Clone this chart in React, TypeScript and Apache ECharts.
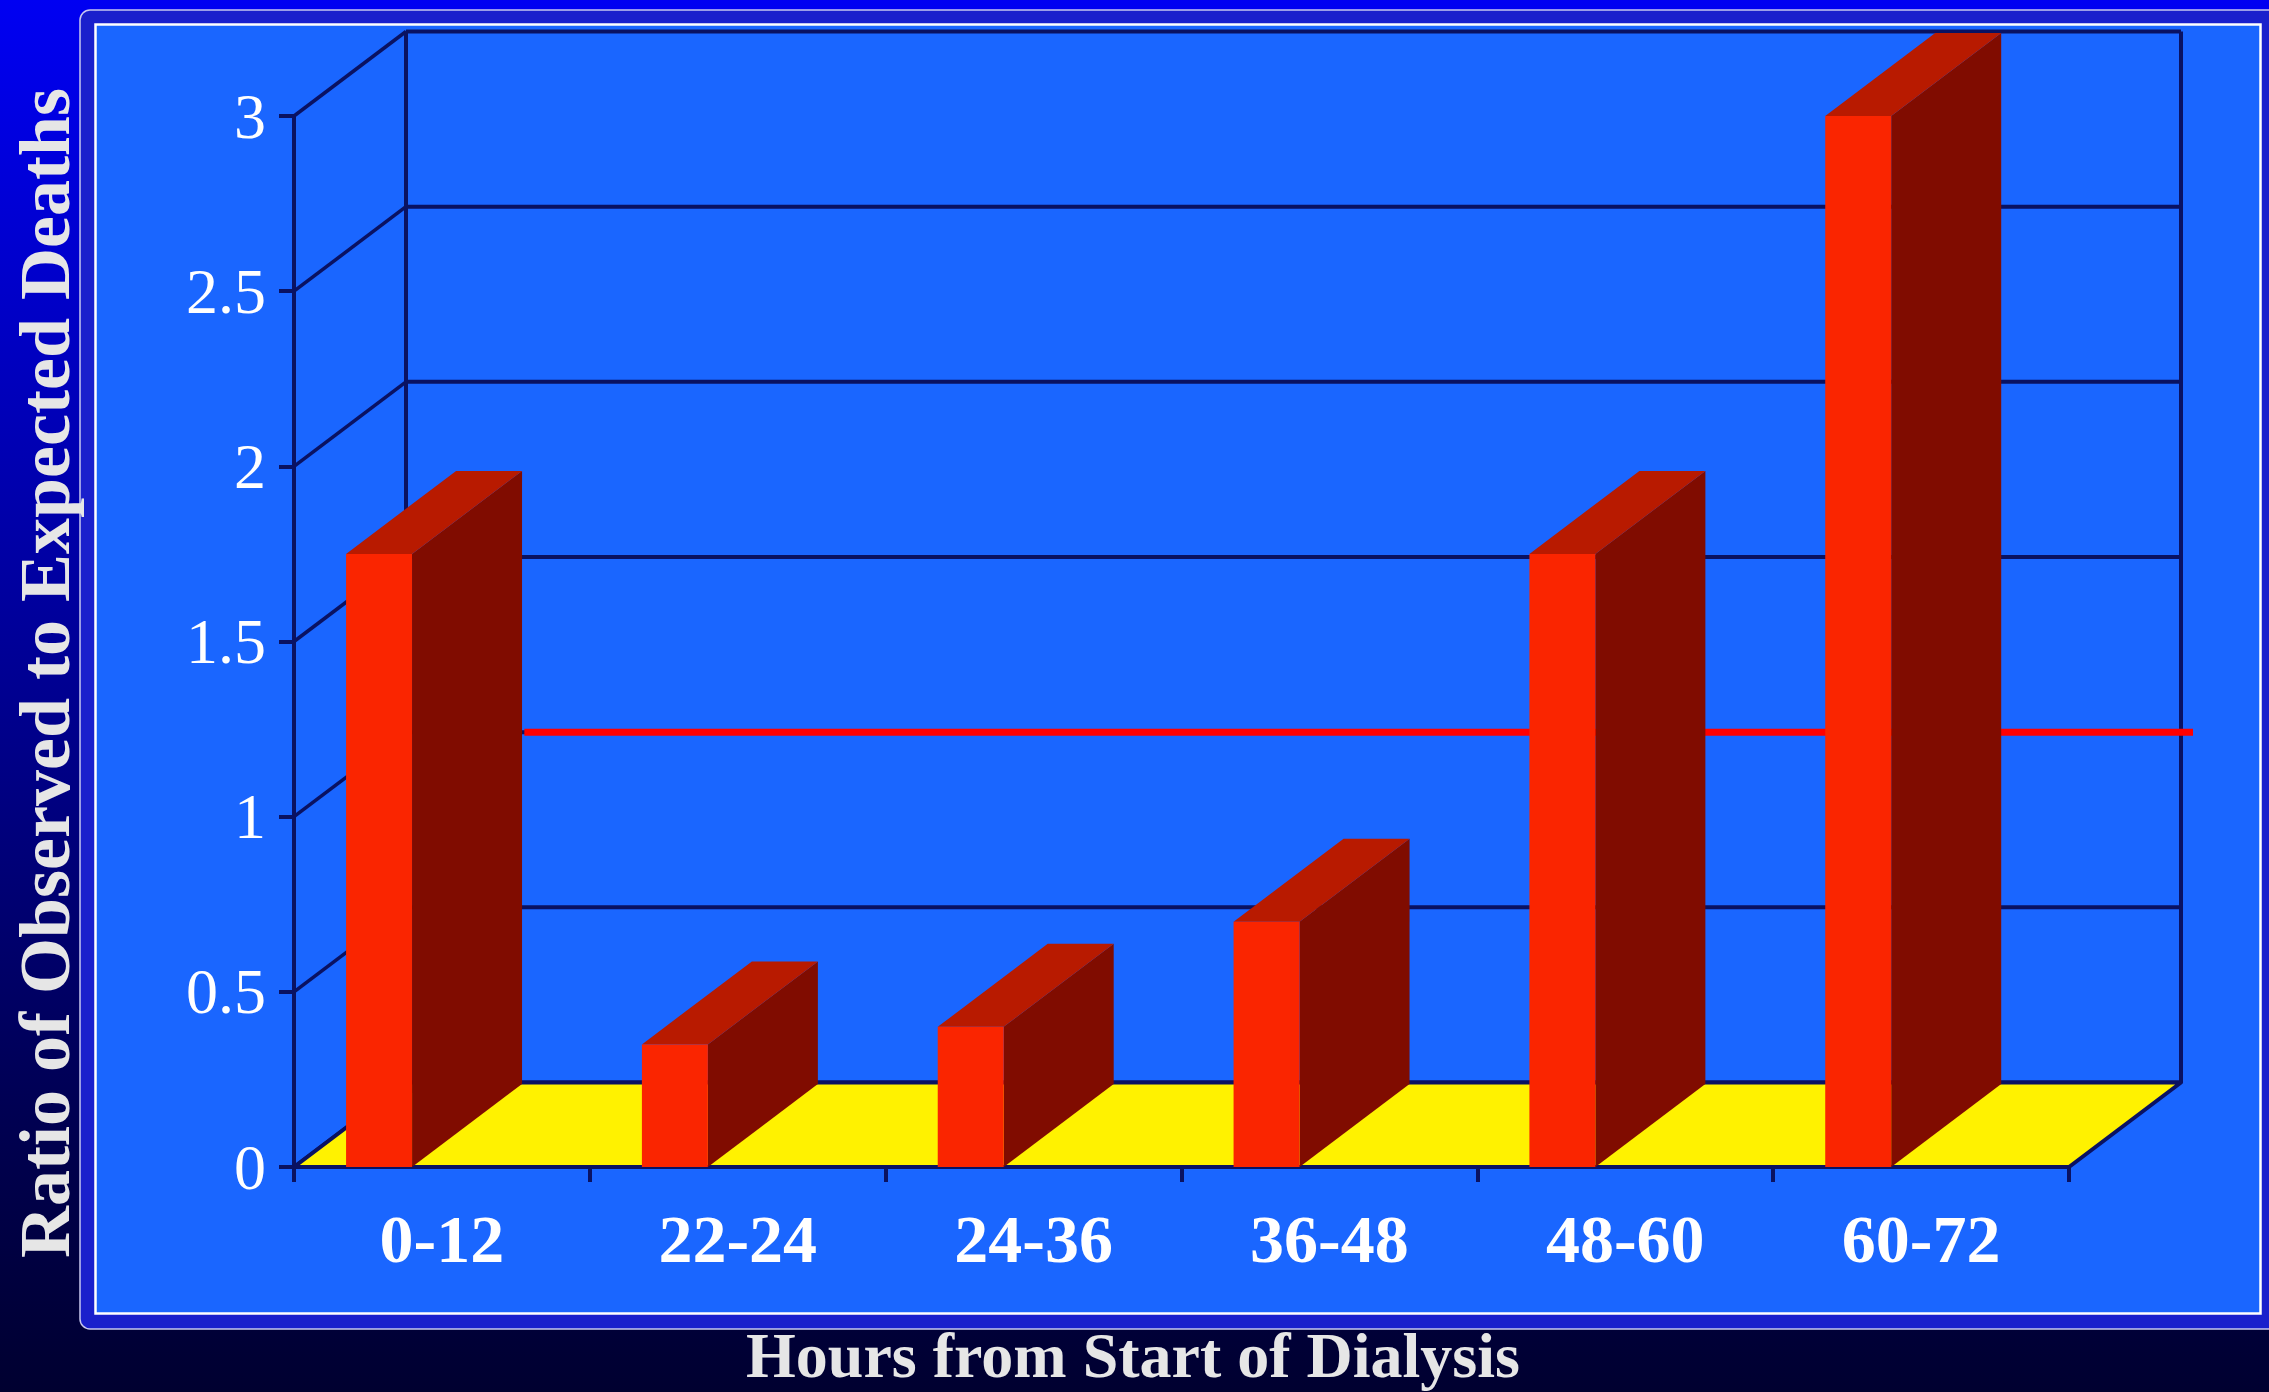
import React, { useEffect, useRef } from 'react';
import * as echarts from 'echarts';

// ---- data ----
const categories = ['0-12', '22-24', '24-36', '36-48', '48-60', '60-72'];
const ratios = [1.75, 0.35, 0.4, 0.7, 1.75, 3.0];
const yTicks = [0, 0.5, 1, 1.5, 2, 2.5, 3];
const referenceLine = [1];
const yTitle = 'Ratio of Observed to Expected Deaths';
const xTitle = 'Hours from Start of Dialysis';

// ---- styling ----
const W = 2269;
const H = 1392;
const NAVY = '#0a1262';
const SERIF = "'Liberation Serif', 'Times New Roman', Times, serif";
const DX = 112; // wall depth offset
const DY = -84.5;
const BDX = 110; // bar depth offset
const BDY = -83;

export default function App() {
  const ref = useRef<HTMLDivElement>(null);

  useEffect(() => {
    if (!ref.current) return;
    const chart = echarts.init(ref.current, undefined, { renderer: 'svg', width: W, height: H });

    const option: any = {
      animation: false,
      grid: { left: 294, top: 116, width: 1775, height: 1051 },
      xAxis: {
        type: 'category',
        data: categories,
        z: 1,
        axisLine: { show: true, lineStyle: { color: NAVY, width: 4 } },
        axisTick: { show: true, length: 15, interval: 0, lineStyle: { color: NAVY, width: 4 } },
        axisLabel: {
          interval: 0,
          color: '#ffffff',
          fontFamily: SERIF,
          fontWeight: 'bold',
          fontSize: 68,
          margin: 38,
        },
        splitLine: { show: false },
      },
      yAxis: {
        type: 'value',
        min: 0,
        max: 3,
        interval: 0.5,
        z: 1,
        axisLine: { show: true, lineStyle: { color: NAVY, width: 4 } },
        axisTick: { show: true, length: 15, lineStyle: { color: NAVY, width: 4 } },
        axisLabel: {
          color: '#ffffff',
          fontFamily: SERIF,
          fontSize: 64,
          margin: 28,
          padding: [0, 0, 14, 0],
        },
        splitLine: { show: false },
      },
      graphic: [
        {
          type: 'rect',
          z: -20,
          shape: { x: 0, y: 0, width: W, height: H },
          style: {
            fill: {
              type: 'linear', x: 0, y: 0, x2: 0, y2: 1,
              colorStops: [
                { offset: 0, color: '#0000f2' },
                { offset: 0.45, color: '#00009a' },
                { offset: 0.8, color: '#000052' },
                { offset: 1, color: '#000030' },
              ],
            },
          },
        },
        {
          type: 'rect',
          z: -15,
          shape: { x: 80, y: 10, width: W, height: 1319, r: 10 },
          style: { fill: '#1a20cc', stroke: '#c8c8f0', lineWidth: 1.5 },
        },
        {
          type: 'rect',
          z: -14,
          shape: { x: 95.5, y: 24.5, width: 2165, height: 1289 },
          style: { fill: '#1a66ff', stroke: '#ffffff', lineWidth: 2.5 },
        },
        {
          type: 'text',
          z: 10,
          x: 45,
          y: 673,
          rotation: Math.PI / 2,
          style: {
            text: yTitle,
            fill: '#e6e6e6',
            fontFamily: SERIF,
            fontWeight: 'bold',
            fontSize: 72,
            align: 'center',
            verticalAlign: 'middle',
          },
        },
        {
          type: 'text',
          z: 10,
          x: 1133,
          y: 1355,
          style: {
            text: xTitle,
            fill: '#e6e6e6',
            fontFamily: SERIF,
            fontWeight: 'bold',
            fontSize: 64,
            align: 'center',
            verticalAlign: 'middle',
          },
        },
      ],
      series: [
        {
          // back wall gridlines + left wall diagonals
          type: 'custom',
          z: 2,
          clip: false,
          silent: true,
          data: yTicks.map((v) => [0, v]),
          renderItem: (params: any, api: any) => {
            const cs = params.coordSys;
            const L = cs.x;
            const R = cs.x + cs.width;
            const v = api.value(1);
            const y = api.coord([0, v])[1];
            const children: any[] = [
              { type: 'line', shape: { x1: L + DX, y1: y + DY, x2: R + DX, y2: y + DY }, style: { stroke: NAVY, lineWidth: 4 } },
              { type: 'line', shape: { x1: L, y1: y, x2: L + DX, y2: y + DY }, style: { stroke: NAVY, lineWidth: 3.5 } },
            ];
            if (params.dataIndex === yTicks.length - 1) {
              const y0 = api.coord([0, yTicks[0]])[1];
              children.push(
                { type: 'line', shape: { x1: L + DX, y1: y0 + DY, x2: L + DX, y2: y + DY }, style: { stroke: NAVY, lineWidth: 4 } },
                { type: 'line', shape: { x1: R + DX, y1: y0 + DY, x2: R + DX, y2: y + DY }, style: { stroke: NAVY, lineWidth: 4 } },
              );
            }
            return { type: 'group', children };
          },
        },
        {
          // floor
          type: 'custom',
          z: 3,
          clip: false,
          silent: true,
          data: [[0, yTicks[0]]],
          renderItem: (params: any, api: any) => {
            const cs = params.coordSys;
            const L = cs.x;
            const R = cs.x + cs.width;
            const y0 = api.coord([0, api.value(1)])[1];
            return {
              type: 'polygon',
              shape: { points: [[L, y0], [R, y0], [R + DX, y0 + DY], [L + DX, y0 + DY]] },
              style: { fill: '#fff200', stroke: NAVY, lineWidth: 4, lineJoin: 'round' },
            };
          },
        },
        {
          // reference line on the back wall
          type: 'custom',
          z: 4,
          clip: false,
          silent: true,
          data: referenceLine.map((v) => [0, v]),
          renderItem: (params: any, api: any) => {
            const cs = params.coordSys;
            const band = api.size([1, 0])[0];
            const L = cs.x;
            const R = cs.x + cs.width;
            const y = api.coord([0, api.value(1)])[1] + DY;
            return {
              type: 'line',
              shape: { x1: L + DX + band * 0.4, y1: y, x2: R + DX + 12, y2: y },
              style: { stroke: '#ff0000', lineWidth: 7 },
            };
          },
        },
        {
          // 3D bars
          type: 'custom',
          z: 5,
          clip: false,
          data: ratios.map((v, i) => [i, v]),
          renderItem: (params: any, api: any) => {
            const i = api.value(0);
            const v = api.value(1);
            const [cx, yTop] = api.coord([i, v]);
            const yBase = api.coord([i, 0])[1];
            const band = api.size([1, 0])[0];
            const w = band * 0.223;
            const fl = cx - band / 2 + band * 0.176;
            const fr = fl + w;
            return {
              type: 'group',
              children: [
                {
                  type: 'polygon',
                  z2: 1,
                  shape: { points: [[fr, yTop], [fr + BDX, yTop + BDY], [fr + BDX, yBase + BDY], [fr, yBase]] },
                  style: { fill: '#800c00' },
                },
                {
                  type: 'polygon',
                  z2: 2,
                  shape: { points: [[fl, yTop], [fl + BDX, yTop + BDY], [fr + BDX, yTop + BDY], [fr, yTop]] },
                  style: { fill: '#b81a00' },
                },
                {
                  type: 'rect',
                  z2: 3,
                  shape: { x: fl, y: yTop, width: w, height: yBase - yTop },
                  style: { fill: '#fa2500' },
                },
              ],
            };
          },
        },
      ],
    };

    chart.setOption(option);
    return () => chart.dispose();
  }, []);

  return (
    <div
      ref={ref}
      style={{ position: 'fixed', left: 0, top: 0, width: W, height: H }}
    />
  );
}
